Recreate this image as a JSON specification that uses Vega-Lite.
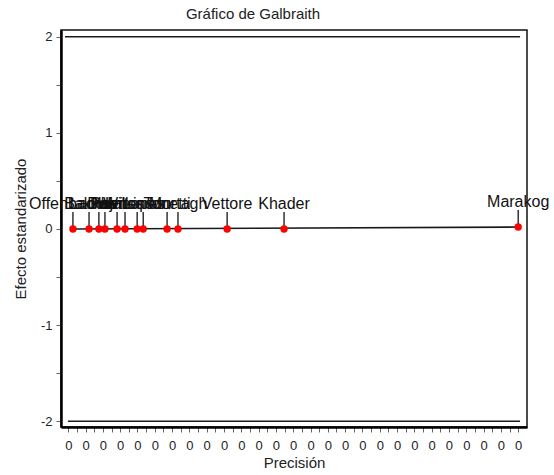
{
  "$schema": "https://vega.github.io/schema/vega-lite/v6.json",
  "autosize": "none",
  "width": 466,
  "height": 397,
  "padding": {"left": 61, "top": 30, "right": 27, "bottom": 48},
  "background": "white",
  "config": {
    "font": "Liberation Sans",
    "view": {"stroke": "#111", "strokeWidth": 1.5},
    "axis": {"grid": false, "domainColor": "#000", "domainWidth": 2.5, "tickColor": "#666", "tickSize": 5, "labelColor": "#222", "titleColor": "#222", "labelFont": "Liberation Sans", "titleFont": "Liberation Sans", "labelFontSize": 13, "titleFontSize": 15, "titleFontWeight": "normal"}
  },
  "title": {"text": "Gráfico de Galbraith", "fontSize": 15, "fontWeight": "normal", "color": "#222", "font": "Liberation Sans", "offset": 8, "dx": -41},
  "datasets": {
    "studies": [
      {"study": "Offenbacher", "prec": 0.1027, "z": 0},
      {"study": "Bakker", "prec": 0.1120, "z": 0},
      {"study": "Lambert", "prec": 0.1177, "z": 0},
      {"study": "Dalvi", "prec": 0.1212, "z": 0},
      {"study": "Pajares", "prec": 0.1282, "z": 0},
      {"study": "Hansen", "prec": 0.1328, "z": 0},
      {"study": "Wilkinson", "prec": 0.1398, "z": 0},
      {"study": "Lopes", "prec": 0.1433, "z": 0},
      {"study": "Tonetti", "prec": 0.1571, "z": 0},
      {"study": "Murtagh", "prec": 0.1634, "z": 0},
      {"study": "Vettore", "prec": 0.1918, "z": 0},
      {"study": "Khader", "prec": 0.2247, "z": 0},
      {"study": "Marakog", "prec": 0.3600, "z": 0.02}
    ],
    "lines": [
      {"grp": "sup", "prec": 0.0981, "z": 2},
      {"grp": "sup", "prec": 0.3611, "z": 2},
      {"grp": "inf", "prec": 0.0998, "z": -2},
      {"grp": "inf", "prec": 0.3611, "z": -2},
      {"grp": "reg", "prec": 0.1027, "z": 0},
      {"grp": "reg", "prec": 0.3600, "z": 0.02}
    ]
  },
  "encoding": {
    "x": {
      "field": "prec", "type": "quantitative",
      "scale": {"domain": [0.0958, 0.3651], "nice": false, "zero": false},
      "axis": {
        "title": "Precisión", "titlePadding": 3,
        "values": [0.1,0.105,0.11,0.115,0.12,0.125,0.13,0.135,0.14,0.145,0.15,0.155,0.16,0.165,0.17,0.175,0.18,0.185,0.19,0.195,0.2,0.205,0.21,0.215,0.22,0.225,0.23,0.235,0.24,0.245,0.25,0.255,0.26,0.265,0.27,0.275,0.28,0.285,0.29,0.295,0.3,0.305,0.31,0.315,0.32,0.325,0.33,0.335,0.34,0.345,0.35,0.355,0.36],
        "labelExpr": "abs(datum.value * 100 - round(datum.value * 100)) < 0.01 ? '0' : ''",
        "labelPadding": 7, "labelFlush": false, "labelOverlap": false
      }
    },
    "y": {
      "field": "z", "type": "quantitative",
      "scale": {"domain": [-2.06, 2.07], "nice": false, "zero": false},
      "axis": {
        "title": "Efecto estandarizado", "titlePadding": 12,
        "values": [-2,-1.5,-1,-0.5,0,0.5,1,1.5,2],
        "labelExpr": "datum.value == round(datum.value) ? toString(datum.value) : ''",
        "labelPadding": 4, "labelFlush": false, "labelOverlap": false
      }
    }
  },
  "layer": [
    {
      "data": {"name": "lines"},
      "mark": {"type": "line", "color": "#1a1a1a", "strokeWidth": 1.6},
      "encoding": {"detail": {"field": "grp"}}
    },
    {
      "data": {"name": "studies"},
      "mark": {"type": "rule", "color": "#000", "strokeWidth": 1.2, "y2Offset": -17},
      "encoding": {"y2": {"field": "z"}}
    },
    {
      "data": {"name": "studies"},
      "mark": {"type": "point", "filled": true, "color": "#ff0000", "opacity": 1, "size": 55}
    },
    {
      "data": {"name": "studies"},
      "mark": {"type": "text", "dy": -20, "baseline": "alphabetic", "align": "center", "fontSize": 16, "color": "#111", "font": "Liberation Sans"},
      "encoding": {"text": {"field": "study"}}
    }
  ]
}
